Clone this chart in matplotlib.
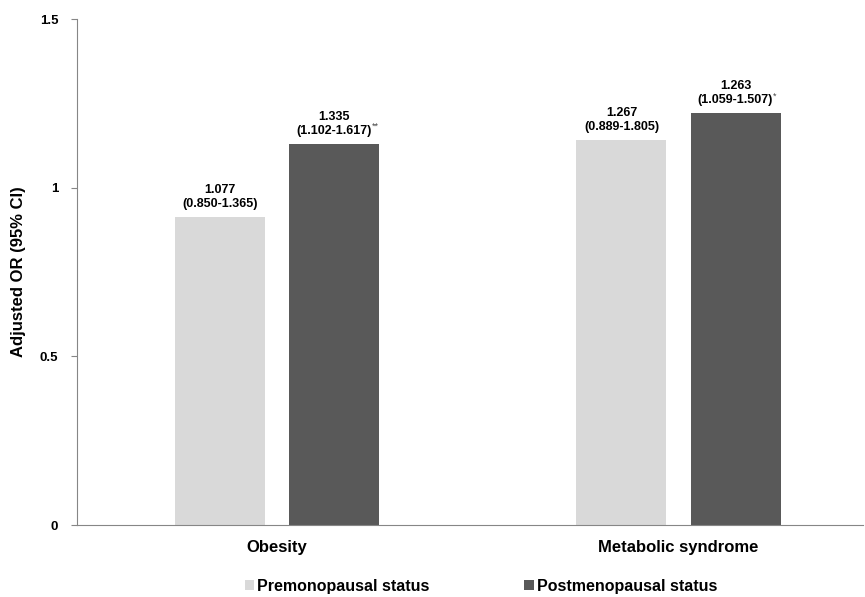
import matplotlib.pyplot as plt
import numpy as np

plt.rcParams['font.family'] = ['Liberation Sans', 'DejaVu Sans']
plt.rcParams['font.weight'] = 'bold'

# --- Data ---
categories = ['Obesity', 'Metabolic syndrome']
series_names = ['Premonopausal status', 'Postmenopausal status']
# bar heights as drawn in the figure
pre_heights = [0.913, 1.141]
post_heights = [1.130, 1.221]
# printed labels
pre_or = ['1.077', '1.267']
pre_ci = ['(0.850-1.365)', '(0.889-1.805)']
post_or = ['1.335', '1.263']
post_ci = ['(1.102-1.617)', '(1.059-1.507)']
post_sig = ['**', '*']

colors = ['#d9d9d9', '#595959']

fig = plt.figure(figsize=(8.65, 5.97), dpi=100)
ax = fig.add_axes([0.089, 0.1206, 0.909, 0.8475])

x = np.arange(len(categories))
w = 0.224
off = 0.142

ax.bar(x - off, pre_heights, w, color=colors[0], label=series_names[0])
ax.bar(x + off, post_heights, w, color=colors[1], label=series_names[1])


def add_label(xpos, h, top_line, ci_line, sig=None):
    t = ax.annotate(top_line + '\n' + ci_line, xy=(xpos, h), xytext=(0, 5),
                    textcoords='offset points', ha='center', va='bottom',
                    fontsize=9, fontweight='bold', linespacing=1.2)
    if sig:
        ax.annotate(sig, xy=(1.0, 0.22), xycoords=t, xytext=(0, 0),
                    textcoords='offset points', ha='left', va='bottom',
                    fontsize=6.5, fontweight='normal', color='#444444')


for i in range(len(categories)):
    add_label(x[i] - off, pre_heights[i], pre_or[i], pre_ci[i])
    add_label(x[i] + off, post_heights[i], post_or[i], post_ci[i], post_sig[i])

ax.set_xlim(-0.4975, 1.46)
ax.set_ylim(0, 1.5)
ax.set_yticks([0, 0.5, 1, 1.5])
ax.set_yticklabels(['0', '0.5', '1', '1.5'], fontsize=9.5, fontweight='bold')
ax.set_xticks(x)
ax.set_xticklabels(categories, fontsize=12, fontweight='bold')
ax.tick_params(axis='x', length=0, pad=11)
ax.tick_params(axis='y', length=4, color='#868686', pad=9.5)

ax.spines['top'].set_visible(False)
ax.spines['right'].set_visible(False)
ax.spines['left'].set_color('#868686')
ax.spines['bottom'].set_color('#868686')
ax.set_ylabel('Adjusted OR (95% CI)', fontsize=12, fontweight='bold', labelpad=10)

fig.legend(loc='center', bbox_to_anchor=(0.556, 0.018), ncol=2, frameon=False,
           fontsize=11.5, handlelength=0.6, handleheight=0.6, handletextpad=0.2,
           columnspacing=5.9, borderaxespad=0)

plt.savefig('out.png', dpi=100)
